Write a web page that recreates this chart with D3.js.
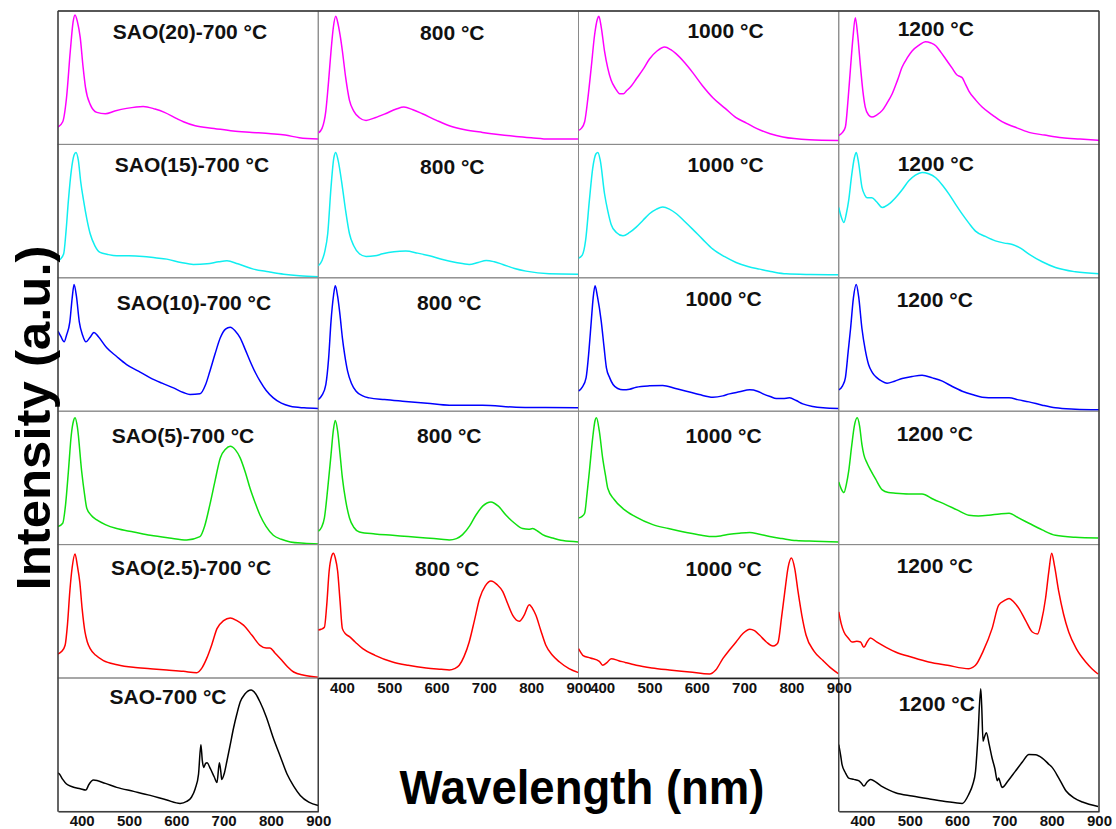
<!DOCTYPE html>
<html>
<head>
<meta charset="utf-8">
<script src="https://cdn.jsdelivr.net/npm/d3@7"></script>
<style>
  body { margin: 0; background: #fff; }
  svg { display: block; font-family: "Liberation Sans", Arial, sans-serif; }
</style>
</head>
<body>
<svg id="chart" width="1116" height="829"></svg>
<script>
// tick values and labels
const wavelengthTicks = [400, 500, 600, 700, 800, 900];
const sampleLabels = ["SAO(20)", "SAO(15)", "SAO(10)", "SAO(5)", "SAO(2.5)", "SAO"];
const tempLabels = ["700 °C", "800 °C", "1000 °C", "1200 °C"];
const sampleColors = ["#ff00ff", "#10eef0", "#0000ff", "#10e010", "#ff0000", "#000000"];

// spectra, [wavelength nm, intensity a.u.]
const sao20_700 = [[350,13],[360,17],[368,35],[376,70],[382,92],[386,97],[391,92],[397,80],[403,58],[408,43],[418,30],[432,24],[450,23],[470,25],[495,27],[530,28.5],[555,26.5],[575,24],[600,19.5],[615,17],[640,14],[680,12],[720,10],[760,9],[800,8],[830,7],[860,5],[900,4]];
const sao20_800 = [[350,8.5],[358,12],[366,25],[372,48],[377,70],[382,88],[387,96],[392,90],[397,80],[401,70],[408,50],[416,33],[425,25],[437,20],[451,18],[470,20],[492,23],[515,26.5],[531,28],[550,26],[570,23],[600,18],[627,14],[660,11],[697,9],[730,7.5],[768,6],[800,5],[838,4],[900,4]];
const sao20_1000 = [[350,10.5],[356,12],[363,17],[370,35],[377,58],[384,82],[390,94],[393,96],[398,88],[405,70],[412,57],[419,48],[428,42],[437,38],[445,38],[451,40],[462,44],[472,49],[486,56],[500,64],[516,70],[532,73],[545,71],[556,68],[575,61],[591,54],[612,44],[634,35],[660,27],[683,20],[705,16],[726,12],[755,8],[782,5.5],[838,3.5],[900,3]];
const sao20_1200 = [[350,6.7],[358,9],[364,13],[370,35],[375,58],[380,80],[385,95],[390,82],[396,58],[401,40],[406,28],[413,22],[420,20.5],[430,22],[442,25.5],[452,31],[463,38],[474,48],[484,58],[495,65],[505,70],[520,74.5],[533,77],[545,76],[555,74],[566,69],[576,64],[590,57],[600,52],[606,51],[611,50],[618,45],[625,40],[640,33],[653,28],[675,22],[695,17],[722,13],[752,9],[785,7],[822,5],[860,4],[900,3]];

const sao15_700 = [[350,13],[355,14],[362,18],[367,35],[372,58],[378,80],[384,92],[388,94],[393,88],[398,72],[404,58],[411,44],[418,33],[428,24],[439,19],[455,17.5],[474,16.5],[500,16.5],[530,16],[555,15],[580,14],[610,11.5],[636,10],[665,10.5],[690,12],[707,12.7],[730,10.5],[763,6.5],[795,4.5],[827,2.7],[860,1.5],[900,0.7]];
const sao15_800 = [[350,9],[358,13],[364,20],[370,33],[377,68],[383,90],[387,94],[392,88],[401,68],[408,50],[416,33],[425,24],[437,18],[451,16],[470,16.5],[486,18],[510,19.5],[535,20],[560,18.5],[585,16.5],[615,13.5],[641,11.5],[669,10],[688,11.5],[705,13],[722,12],[740,10],[765,7],[789,5],[838,3],[900,2.7]];
const sao15_1000 = [[350,14.7],[358,17],[365,28],[373,58],[380,82],[387,93],[391,94],[396,88],[405,63],[412,50],[419,40],[430,34],[444,31.5],[458,34],[472,38],[486,43],[500,48],[515,51.5],[528,53],[542,51.5],[557,48],[575,42],[591,36.5],[612,29],[634,21.5],[658,16],[683,11.5],[708,8.5],[733,6.5],[760,4.5],[789,3],[840,2.5],[900,2.3]];
const sao15_1200 = [[350,52.7],[355,46],[361,41.5],[366,48],[371,58],[377,76],[383,90],[387,94],[392,86],[399,68],[405,62],[410,60],[420,60],[430,57],[442,52.7],[455,55],[470,60],[484,66],[498,72.7],[512,77],[526,79],[540,78],[555,75],[570,69],[583,62.7],[597,55],[611,47.7],[625,41],[639,35],[660,31],[681,27.7],[700,26],[717,25],[735,22],[752,17.7],[780,12],[808,7.7],[850,4.5],[900,3]];

const sao10_700 = [[350,60],[356,56],[363,52],[368,57],[375,67],[380,85],[384,95],[389,86],[395,67],[402,57],[409,52],[417,55],[426,59],[435,56],[453,47.5],[474,41],[495,35],[520,30],[545,25],[570,21],[594,17.5],[615,14],[629,12.5],[650,13],[662,20],[671,30],[682,43],[693,55],[704,61.5],[714,63],[725,60],[735,55],[746,46],[756,37.5],[767,29],[777,22.5],[790,15.5],[805,10],[822,6],[841,3.7],[870,2.5],[900,2]];
const sao10_800 = [[350,8.7],[358,12],[366,20],[372,40],[377,67.5],[382,86],[386,94],[391,86],[396,72],[401,55],[406,42],[412,30],[420,21],[430,15],[444,11.5],[458,10],[490,8.7],[528,7.5],[580,6],[627,4.5],[697,4.5],[768,3],[830,2.7],[900,2.5]];
const sao10_1000 = [[350,15],[358,18],[366,25],[372,45],[377,67.5],[381,85],[385,94],[390,86],[398,67.5],[404,48],[409,32.5],[416,25],[423,20],[433,17],[444,16],[458,16.5],[472,18],[500,19],[528,19.3],[555,17],[578,15],[605,12.5],[634,10.5],[655,11.5],[669,13],[690,14.5],[712,16],[728,15],[740,13],[755,11],[768,9.5],[782,9.5],[796,10],[810,8],[824,5.5],[845,3.5],[867,2.5],[900,2]];
const sao10_1200 = [[350,16],[358,19],[364,25],[370,45],[375,62],[381,85],[387,95],[392,86],[399,62],[406,46],[413,35],[421,29],[431,25],[441,22.5],[452,21],[468,22.5],[484,24.5],[505,26],[526,27],[548,25],[569,22.5],[590,18.5],[611,15],[632,12.5],[653,10.5],[680,10],[710,10],[730,8.5],[752,7],[780,4.5],[808,2.5],[850,1.5],[900,1]];

const sao5_700 = [[350,13.5],[360,16],[366,30],[372,55],[378,82],[383,93],[386,95],[391,88],[400,55],[406,38],[411,27],[420,22],[432,18.5],[450,15],[474,12],[510,9.5],[545,7],[585,5],[622,3.5],[650,6],[660,14],[671,30],[682,48],[693,65],[704,71.5],[714,73.7],[725,71],[735,65],[746,54],[756,42],[767,31],[777,22],[790,13.5],[805,7],[822,4],[841,2],[870,1],[900,0.5]];
const sao5_800 = [[350,10],[357,13],[363,20],[370,42],[377,67.5],[382,86],[386,93],[391,85],[396,68],[401,50],[408,33],[416,20],[425,13],[437,9.5],[470,8],[507,7],[540,6],[578,5],[610,4],[627,3.5],[642,4.5],[655,7.5],[670,14],[683,22],[698,29],[715,32],[730,29],[747,22],[765,16],[782,12],[795,11.5],[803,12],[814,10],[824,7.5],[845,5],[867,3],[900,2]];
const sao5_1000 = [[350,20],[357,21],[363,23.5],[368,38],[373,55],[380,80],[385,93],[388,95],[394,85],[401,65],[407,52],[412,42],[425,34],[444,27],[470,21],[507,15],[540,12],[578,9],[610,7],[634,6],[650,6.5],[669,7.7],[690,8.5],[712,9],[730,8],[754,6],[780,4.5],[810,3],[850,2.5],[900,2]];
const sao5_1200 = [[350,47],[355,42],[361,39],[366,45],[371,55],[377,73],[383,89],[389,95],[394,89],[399,75],[403,67.5],[410,61],[417,56],[428,49],[442,41],[455,39],[470,38.5],[498,38],[526,38],[550,34],[576,30],[600,26],[625,22],[645,21.5],[667,22],[690,23],[710,23.5],[730,20],[752,16],[780,11],[808,7],[850,5.5],[898,5]];

const sao25_700 = [[350,18],[358,20],[365,24.5],[370,40],[375,65],[380,83],[386,93],[391,84],[396,72],[401,52],[407,34.5],[412,27],[418,22],[430,17],[446,13],[475,10],[509,8],[545,7],[580,6],[615,5],[643,4],[655,8],[664,14.5],[675,25],[686,37],[700,43],[714,45],[728,43],[742,39.6],[760,32],[777,24.5],[790,22.5],[798,22.5],[808,19],[820,14.5],[835,8.5],[848,4.5],[870,2],[900,0.5]];
const sao25_800 = [[350,36],[356,36.5],[363,38],[368,55],[373,80],[378,91],[382,93.5],[386,90],[391,80],[396,58],[401,37],[408,33],[416,31],[428,27],[444,22],[470,17],[507,12],[540,9.5],[578,7.5],[610,6.5],[627,6],[638,7],[648,9.5],[658,16],[669,27],[680,43],[691,59.6],[703,69],[715,72.7],[728,70],[740,64.7],[750,56],[761,47],[775,42.6],[785,47],[796,55],[803,52],[810,47],[820,36],[831,24.5],[845,17],[860,12],[880,7],[900,4]];
const sao25_1000 = [[350,22],[355,19],[359,17],[375,15],[394,12.5],[401,9.5],[410,11.5],[419,14.5],[435,13],[450,11.5],[472,9.5],[505,7.5],[542,6],[585,4.5],[627,3],[640,6],[655,14.5],[669,21],[683,27],[698,33.5],[712,36.6],[722,35.5],[733,32],[747,27],[761,24],[768,25],[772,27],[779,45],[786,64.7],[793,83],[800,90],[807,82],[814,64.7],[822,47],[831,32],[848,20],[867,13],[885,7],[900,3]];
const sao25_1200 = [[350,49.6],[355,41],[361,34.5],[370,30],[378,27],[388,27.5],[396,27],[403,23],[410,27],[417,30],[430,27],[450,23],[470,19.5],[505,15.5],[540,12],[580,9.5],[625,7],[633,8],[639,9.5],[655,20],[674,37],[688,54.6],[700,58],[710,59.6],[720,57],[731,52],[745,43],[759,34.5],[770,33],[778,42],[787,59.6],[794,80],[800,93.5],[806,84],[815,64.7],[825,48],[836,34.5],[852,22],[872,12],[885,7],[898,3]];

const sao_700 = [[350,29],[353,28],[360,24],[368,20.5],[380,18.5],[397,17],[409,16],[415,20],[425,23.5],[450,21],[474,18],[510,15],[545,12],[580,8.5],[608,6],[622,7.5],[632,10.6],[640,17],[647,28],[652,50],[655,38],[658,33],[662,36],[665,36.5],[672,32],[680,26],[686,21.7],[691,36.5],[694,30],[696,24],[701,28],[707,37.8],[714,50],[721,62.5],[728,73],[735,82],[745,88],[758,91],[768,88],[777,82],[790,71],[805,55],[820,41],[834,28],[848,19],[862,12],[880,7],[900,4.5]];
const sao_1200 = [[350,50],[354,42],[357,35],[364,29],[371,25],[382,24],[392,23],[397,21.5],[403,19],[410,22],[417,24],[440,19],[470,14],[505,11.5],[540,9.4],[575,7.5],[611,6],[625,13],[633,20],[639,30],[644,55],[650,92],[652,80],[655,52.6],[658,56],[662,59],[668,50],[674,40],[680,32],[685,23],[688,25],[691,22],[695,18],[708,23],[723,30],[738,37],[752,42.7],[766,42.5],[780,40],[795,35],[801,33],[815,25],[830,15.5],[848,10],[865,7],[898,3.7]];

const curves = [
  [sao20_700, sao20_800, sao20_1000, sao20_1200],
  [sao15_700, sao15_800, sao15_1000, sao15_1200],
  [sao10_700, sao10_800, sao10_1000, sao10_1200],
  [sao5_700, sao5_800, sao5_1000, sao5_1200],
  [sao25_700, sao25_800, sao25_1000, sao25_1200],
  [sao_700, null, null, sao_1200]
];

// layout
const gridX = 58, gridY = 11, colW = 260.25, rowH = 133.4;
const rowsN = 6, colsN = 4;
const gridRight = gridX + colW * colsN;
const gridBottom = gridY + rowH * rowsN;

// title anchor (centre x offset, centre y offset) inside each panel
const titleX = [[132,134,147,97],[134,134,147,97],[136,131,145,96],[125,131,145,96],[133,129,145,96],[110,0,0,98]];
const titleY = [[21,22,20,18],[21,23,21,20],[25,25,21,22],[25,25,25,23],[23,24,24,21],[19,0,0,26]];

const svg = d3.select("#chart");

const x = d3.scaleLinear().domain([350, 900]).range([0, colW]);
const y = d3.scaleLinear().domain([0, 100]).range([rowH, 0]);

const line = d3.line()
  .x(d => x(d[0]))
  .y(d => y(d[1]))
  .curve(d3.curveMonotoneX);

svg.append("defs").append("clipPath").attr("id", "panelClip")
  .append("rect").attr("x", 0).attr("y", 0).attr("width", colW).attr("height", rowH);

curves.forEach((row, r) => {
  row.forEach((data, c) => {
    if (!data) return;
    const g = svg.append("g")
      .attr("transform", "translate(" + (gridX + c * colW) + "," + (gridY + r * rowH) + ")");

    g.append("rect")
      .attr("width", colW).attr("height", rowH)
      .attr("fill", "none").attr("stroke", "#8a8a8a").attr("stroke-width", 1);

    g.append("path")
      .datum(data)
      .attr("clip-path", "url(#panelClip)")
      .attr("d", line)
      .attr("fill", "none")
      .attr("stroke", sampleColors[r])
      .attr("stroke-width", 1.5);

    const label = c === 0 ? sampleLabels[r] + "-" + tempLabels[0] : tempLabels[c];
    g.append("text")
      .attr("x", titleX[r][c])
      .attr("y", titleY[r][c] + 7)
      .attr("text-anchor", "middle")
      .attr("font-size", 21)
      .attr("font-weight", "bold")
      .attr("fill", "#111")
      .text(label);
  });
});

// dark outer frame
const frame = [
  [gridX, gridY, gridRight, gridY],
  [gridX, gridY, gridX, gridBottom],
  [gridRight, gridY, gridRight, gridBottom],
  [gridX + colW, gridY + rowH * 5, gridX + colW, gridBottom],
  [gridX + colW * 3, gridY + rowH * 5, gridX + colW * 3, gridBottom]
];
svg.selectAll("line.frame").data(frame).enter().append("line")
  .attr("class", "frame")
  .attr("x1", d => d[0]).attr("y1", d => d[1])
  .attr("x2", d => d[2]).attr("y2", d => d[3])
  .attr("stroke", "#333").attr("stroke-width", 1.3);

// wavelength axes under the bottom panel of every column
const axisSpots = [[0, 6], [1, 5], [2, 5], [3, 6]];
axisSpots.forEach(([c, r]) => {
  const ax = svg.append("g")
    .attr("transform", "translate(" + (gridX + c * colW) + "," + (gridY + r * rowH) + ")")
    .call(d3.axisBottom(x).tickValues(wavelengthTicks).tickSize(0).tickPadding(4));
  ax.select(".domain").attr("stroke", "#222").attr("stroke-width", 1.3);
  ax.selectAll("text")
    .style("font-size", "15px")
    .style("font-weight", "bold")
    .style("font-family", "'Liberation Sans', Arial, sans-serif")
    .attr("fill", "#111");
});

// axis titles
svg.append("text")
  .attr("transform", "translate(50,418) rotate(-90)")
  .attr("text-anchor", "middle")
  .attr("font-size", 48)
  .attr("font-weight", "bold")
  .attr("textLength", 345)
  .attr("lengthAdjust", "spacingAndGlyphs")
  .text("Intensity (a.u.)");

svg.append("text")
  .attr("x", 582)
  .attr("y", 804)
  .attr("text-anchor", "middle")
  .attr("font-size", 48)
  .attr("font-weight", "bold")
  .attr("textLength", 365)
  .attr("lengthAdjust", "spacingAndGlyphs")
  .text("Wavelength (nm)");
</script>
</body>
</html>
